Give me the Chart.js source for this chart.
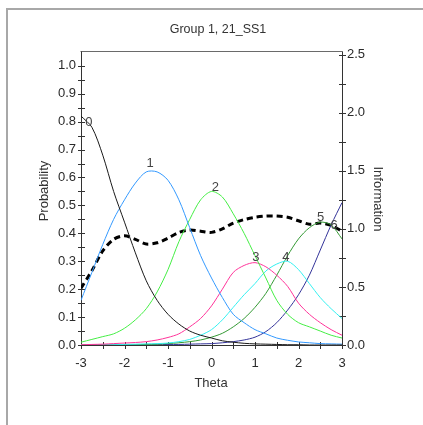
<!DOCTYPE html>
<html><head><meta charset="utf-8">
<script src="https://cdn.jsdelivr.net/npm/chart.js@4"></script>
<style>
html,body{margin:0;padding:0;background:#fff;}
#wrap{position:relative;width:423px;height:425px;overflow:hidden;background:#fff;}
#frame{position:absolute;left:6px;top:8px;width:440px;height:440px;border-left:2px solid #a8a8a8;border-top:2px solid #a8a8a8;}
canvas{position:absolute;left:0;top:0;}
</style></head><body>
<div id="wrap"><div id="frame"></div><canvas id="c" width="423" height="425"></canvas></div>
<script>
// ---- data ----
const theta = [-3,-2.75,-2.5,-2.25,-2,-1.75,-1.5,-1.25,-1,-0.75,-0.5,-0.25,0,0.25,0.5,0.75,1,1.25,1.5,1.75,2,2.25,2.5,2.75,3];
const p0 = [0.82,0.78,0.68,0.55,0.44,0.33,0.23,0.16,0.11,0.075,0.05,0.035,0.025,0.015,0.01,0.006,0.004,0.003,0.002,0.001,0.001,0,0,0,0];
const p1 = [0.16,0.26,0.36,0.45,0.52,0.58,0.62,0.62,0.59,0.52,0.42,0.32,0.24,0.17,0.11,0.08,0.055,0.04,0.025,0.017,0.011,0.008,0.005,0.004,0.003];
const p2 = [0.01,0.02,0.03,0.04,0.06,0.09,0.13,0.19,0.27,0.37,0.45,0.52,0.55,0.53,0.47,0.40,0.32,0.24,0.16,0.11,0.08,0.065,0.05,0.035,0.025];
const p3 = [0.001,0.002,0.003,0.005,0.007,0.009,0.012,0.018,0.027,0.04,0.065,0.095,0.14,0.20,0.26,0.285,0.295,0.28,0.25,0.21,0.15,0.11,0.08,0.055,0.035];
const p4 = [0,0,0,0.001,0.002,0.003,0.004,0.005,0.007,0.012,0.02,0.035,0.055,0.09,0.135,0.18,0.22,0.265,0.29,0.30,0.27,0.22,0.17,0.13,0.095];
const p5 = [0,0,0,0,0.001,0.001,0.002,0.003,0.005,0.008,0.012,0.018,0.028,0.042,0.065,0.095,0.135,0.185,0.25,0.32,0.38,0.42,0.44,0.43,0.38];
const p6 = [0,0,0,0,0,0,0.001,0.001,0.002,0.002,0.003,0.004,0.005,0.008,0.012,0.018,0.028,0.048,0.08,0.125,0.18,0.25,0.34,0.43,0.51];
const information = [0.49,0.64,0.81,0.91,0.94,0.91,0.87,0.88,0.92,0.97,0.99,0.98,0.97,1.0,1.05,1.08,1.10,1.11,1.11,1.10,1.07,1.04,1.05,1.03,0.98];

const categoryNames = ['0','1','2','3','4','5','6'];
const labelTheta = [-2.82,-1.41,0.09,1.02,1.71,2.51,2.82];
const labelProb  = [0.796,0.652,0.566,0.312,0.312,0.456,0.430];

const xTickLabels = ['-3','-2','-1','0','1','2','3'];
const probTickLabels = ['0.0','0.1','0.2','0.3','0.4','0.5','0.6','0.7','0.8','0.9','1.0'];
const infoTickLabels = ['0.0','0.5','1.0','1.5','2.0','2.5'];

const titleText = 'Group 1, 21_SS1';
const xTitle = 'Theta';
const yLeftTitle = 'Probability';
const yRightTitle = 'Information';

// ---- styling ----
const FONT = "'Liberation Sans', Arial, sans-serif";
const colors = ['#1a1a1a','#3399ff','#44ee44','#ff3399','#33f0f0','#339933','#333399'];
const probSeries = [p0,p1,p2,p3,p4,p5,p6];

const datasets = probSeries.map((s,i)=>({
  label: categoryNames[i],
  data: theta.map((t,j)=>({x:t,y:s[j]})),
  borderColor: colors[i], borderWidth: 1, pointRadius: 0, tension: 0.3,
  fill:false, yAxisID:'yP'
}));
datasets.push({
  label:'Information',
  data: theta.map((t,j)=>({x:t,y:information[j]})),
  borderColor:'#000', borderWidth:3, borderDash:[6,4], borderCapStyle:'butt',
  pointRadius:0, tension:0.3, fill:false, yAxisID:'yI'
});

function setTicks(labels){ return (scale)=>{ scale.ticks = labels.map(l=>({value:parseFloat(l)})); }; }
function fmt(labels){ return (value)=>{ const l = labels.find(s=>Math.abs(parseFloat(s)-value)<1e-9); return l===undefined?'':l; }; }

const deco = {
  id:'deco',
  beforeDatasetsDraw(chart){
    const {ctx, chartArea:a, scales} = chart;
    const L=Math.round(a.left)+0.5, R=Math.round(a.right)+0.5, T=Math.round(a.top)+0.5, B=Math.round(a.bottom)+0.5;
    ctx.save();
    ctx.lineWidth=1;
    ctx.strokeStyle='#6a6a6a';
    ctx.beginPath(); ctx.moveTo(L-1,T); ctx.lineTo(R,T); ctx.stroke();
    ctx.strokeStyle='#333';
    ctx.beginPath();
    ctx.moveTo(L,T); ctx.lineTo(L,B);
    ctx.moveTo(R,T); ctx.lineTo(R,B);
    ctx.moveTo(L,B); ctx.lineTo(R,B);
    for(let v=0; v<=1.0001; v+=0.05){ const y=Math.round(scales.yP.getPixelForValue(v))+0.5; ctx.moveTo(L-3.5,y); ctx.lineTo(L+3.5,y); }
    for(let v=0; v<=2.5001; v+=0.25){ const y=Math.round(scales.yI.getPixelForValue(v))+0.5; ctx.moveTo(R-3.5,y); ctx.lineTo(R+3.5,y); }
    for(let v=-3; v<=3.0001; v+=0.5){ const x=Math.round(scales.x.getPixelForValue(v))+0.5; ctx.moveTo(x,B-3.5); ctx.lineTo(x,B+3.5); }
    ctx.stroke();
    ctx.restore();
  },
  afterDraw(chart){
    const {ctx, scales} = chart;
    ctx.save();
    ctx.fillStyle='#333';
    ctx.textAlign='center'; ctx.textBaseline='middle';
    ctx.font='12.5px '+FONT;
    ctx.fillText(titleText, 218, 30);
    ctx.font='13px '+FONT;
    ctx.fillText(xTitle, 211, 383);
    ctx.save(); ctx.translate(44,191); ctx.rotate(-Math.PI/2); ctx.fillText(yLeftTitle,0,0); ctx.restore();
    ctx.save(); ctx.translate(378,199); ctx.rotate(Math.PI/2); ctx.fillText(yRightTitle,0,0); ctx.restore();
    ctx.fillStyle='#444';
    categoryNames.forEach((n,i)=>{
      ctx.fillText(n, scales.x.getPixelForValue(labelTheta[i]), scales.yP.getPixelForValue(labelProb[i]));
    });
    ctx.restore();
  }
};

Chart.defaults.font.family = FONT;
Chart.defaults.font.size = 13;
Chart.defaults.color = '#2a2a2a';

new Chart(document.getElementById('c'), {
  type:'line',
  data:{datasets},
  options:{
    responsive:false, animation:false, devicePixelRatio:1,
    layout:{padding:{top:51,left:0,right:0,bottom:0}},
    plugins:{legend:{display:false}, tooltip:{enabled:false}, title:{display:false}},
    scales:{
      x:{type:'linear', min:-3, max:3, position:'bottom',
         grid:{display:false, drawTicks:false}, border:{display:false},
         ticks:{padding:11, maxRotation:0, autoSkip:false, callback:fmt(xTickLabels)},
         afterBuildTicks:setTicks(xTickLabels),
         afterFit:(s)=>{s.height=80;}},
      yP:{type:'linear', position:'left', min:0, max:1.053,
         grid:{display:false, drawTicks:false}, border:{display:false},
         ticks:{padding:5, autoSkip:false, callback:fmt(probTickLabels)},
         afterBuildTicks:setTicks(probTickLabels),
         afterFit:(s)=>{s.width=81;}},
      yI:{type:'linear', position:'right', min:0, max:2.532,
         grid:{display:false, drawTicks:false}, border:{display:false},
         ticks:{padding:5, autoSkip:false, callback:fmt(infoTickLabels)},
         afterBuildTicks:setTicks(infoTickLabels),
         afterFit:(s)=>{s.width=81;}}
    }
  },
  plugins:[deco]
});
</script>
</body></html>
